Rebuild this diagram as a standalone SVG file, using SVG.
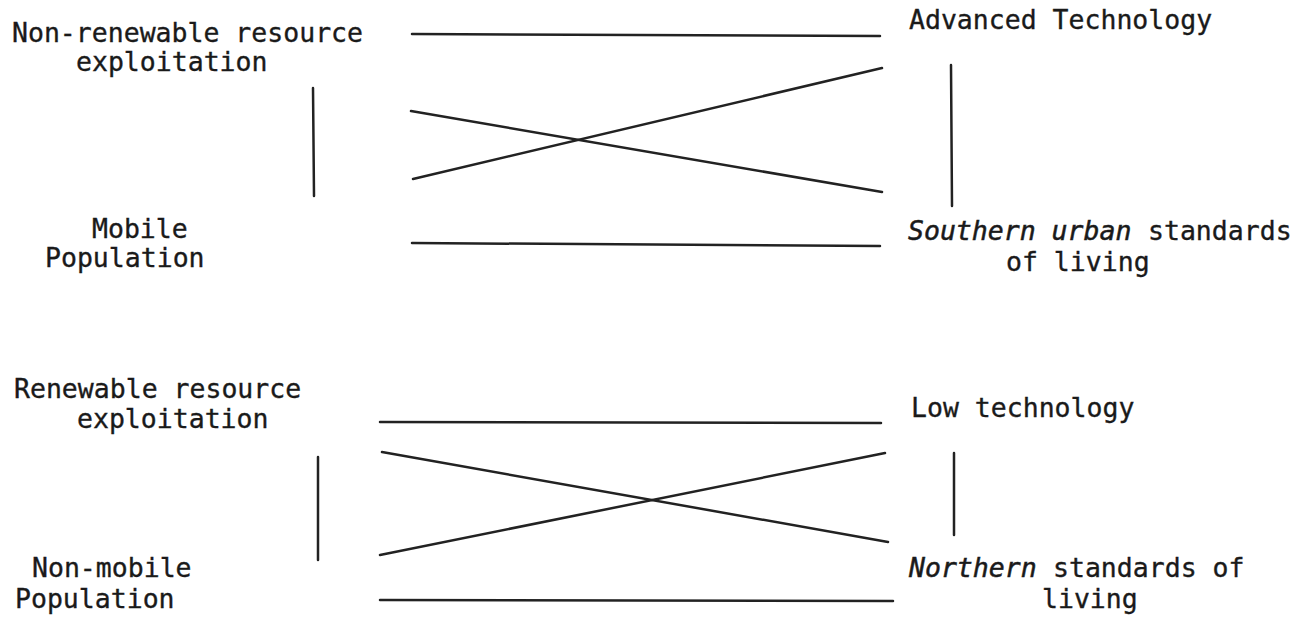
<svg xmlns="http://www.w3.org/2000/svg" width="1303" height="618" viewBox="0 0 1303 618">
<style>
text{font-family:"DejaVu Sans Mono","Liberation Mono",monospace;font-size:26.5px;fill:#1a1a1a;stroke:#1a1a1a;stroke-width:0.35}
.it{font-family:"DejaVu Sans Mono","Liberation Mono",monospace;font-style:italic;font-size:26.5px;stroke-width:0.5}
.ln{stroke:#222;stroke-width:2.5;stroke-linecap:round;fill:none}
</style>
<rect width="1303" height="618" fill="#fff"/>
<g id="connectors">
<line class="ln" x1="412" y1="34" x2="880" y2="36"/>
<line class="ln" x1="413" y1="179" x2="882" y2="68"/>
<line class="ln" x1="411" y1="111" x2="882" y2="192"/>
<line class="ln" x1="412" y1="243" x2="880" y2="246"/>
<line class="ln" x1="313" y1="88" x2="314" y2="196"/>
<line class="ln" x1="951" y1="65" x2="952" y2="206"/>
<line class="ln" x1="380" y1="422" x2="881" y2="423"/>
<line class="ln" x1="382" y1="452" x2="888" y2="542"/>
<line class="ln" x1="380" y1="555" x2="885" y2="453"/>
<line class="ln" x1="380" y1="600" x2="893" y2="601"/>
<line class="ln" x1="318" y1="457" x2="318" y2="560"/>
<line class="ln" x1="954" y1="453" x2="954" y2="535"/>
</g>
<g id="nonrenewable"><text x="12" y="42">Non-renewable resource</text><text x="76" y="71">exploitation</text></g>
<g id="mobile"><text x="92" y="238">Mobile</text><text x="45" y="267">Population</text></g>
<g id="advanced"><text x="909" y="29">Advanced Technology</text></g>
<g id="southern"><text x="908" y="240"><tspan class="it">Southern urban</tspan><tspan x="1148">standards</tspan></text><text x="1006" y="271">of living</text></g>
<g id="renewable"><text x="14" y="398">Renewable resource</text><text x="77" y="428">exploitation</text></g>
<g id="nonmobile"><text x="32" y="577">Non-mobile</text><text x="15" y="608">Population</text></g>
<g id="low"><text x="911" y="417">Low technology</text></g>
<g id="northern"><text x="909" y="577"><tspan class="it">Northern</tspan><tspan x="1053">standards of</tspan></text><text x="1042" y="608">living</text></g>
</svg>
